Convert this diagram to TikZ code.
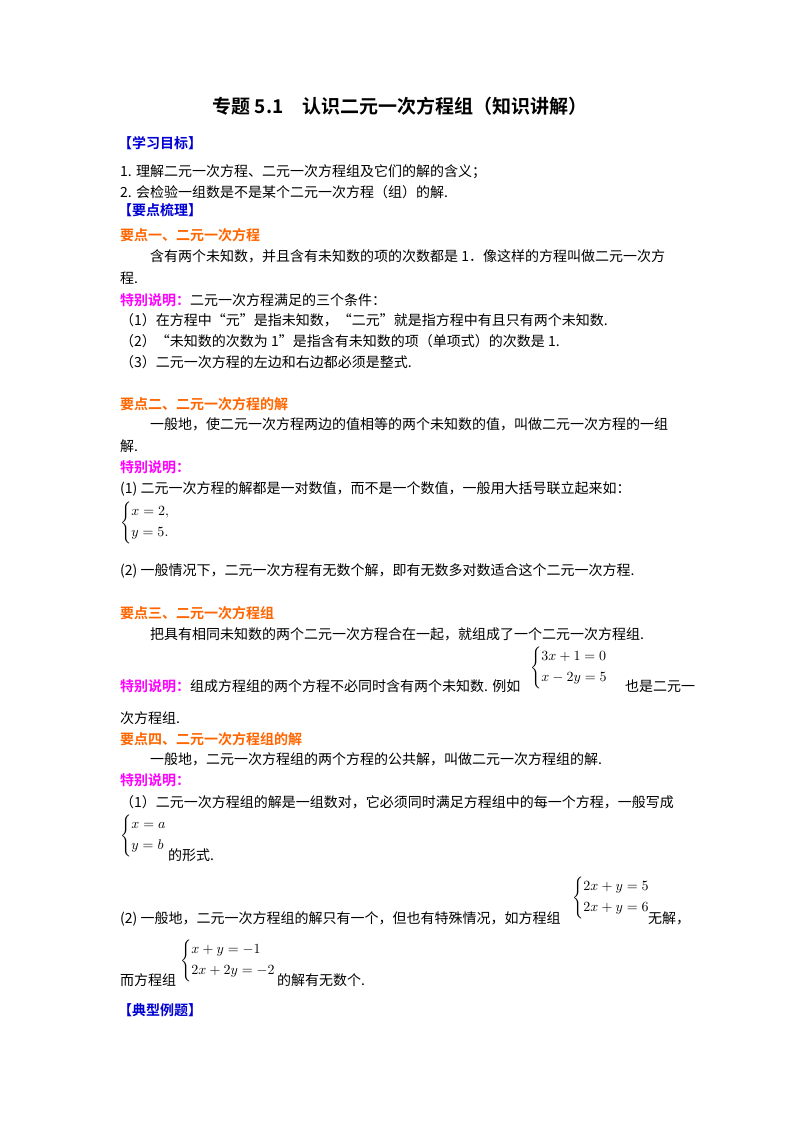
\documentclass[tikz,border=0pt]{standalone}
\usepackage{fontspec}
\newfontfamily\cjk[BoldFont={Noto Sans CJK SC Bold}]{Noto Sans CJK SC}
\definecolor{hblue}{RGB}{0,0,210}
\definecolor{horange}{RGB}{255,102,0}
\definecolor{hmag}{RGB}{255,0,255}
\newcommand\msys[2]{\scalebox{1.4}{$\left\{\begin{array}{@{}l}#1\\[3pt] #2\end{array}\right.$}}
\begin{document}
\begin{tikzpicture}[x=1pt,y=1pt,
  txt/.style={anchor=base west,inner sep=0pt,font=\cjk\fontsize{14}{14}\selectfont},
  hb/.style={txt,font=\cjk\bfseries\fontsize{14}{14}\selectfont,text=hblue},
  ho/.style={txt,font=\cjk\bfseries\fontsize{14}{14}\selectfont,text=horange},
  mth/.style={anchor=west,inner sep=0pt}]
\useasboundingbox[fill=white] (0,0) rectangle (800,-1132);
\newcommand\tb[1]{\textcolor{hmag}{\bfseries #1}}
\node[anchor=base,inner sep=0pt,font=\cjk\bfseries\fontsize{19}{20}\selectfont] (title) at (400,-113) {专题 5.1\quad 认识二元一次方程组（知识讲解）};
\node[hb] (h1) at (118,-148) {【学习目标】};
\node[txt] (l1) at (120,-176) {1. 理解二元一次方程、二元一次方程组及它们的解的含义；};
\node[txt] (l2) at (120,-197) {2. 会检验一组数是不是某个二元一次方程（组）的解.};
\node[hb] (h2) at (118,-215) {【要点梳理】};
\node[ho] (k1) at (120,-240) {要点一、二元一次方程};
\node[txt] (a1) at (150,-261) {含有两个未知数，并且含有未知数的项的次数都是 1．像这样的方程叫做二元一次方};
\node[txt] (a2) at (120,-283) {程.};
\node[txt] (a3) at (120,-305) {\tb{特别说明：}二元一次方程满足的三个条件：};
\node[txt] (a4) at (120,-325) {（1）在方程中“元”是指未知数，“二元”就是指方程中有且只有两个未知数.};
\node[txt] (a5) at (120,-346) {（2）“未知数的次数为 1”是指含有未知数的项（单项式）的次数是 1.};
\node[txt] (a6) at (120,-367) {（3）二元一次方程的左边和右边都必须是整式.};
\node[ho] (k2) at (120,-409) {要点二、二元一次方程的解};
\node[txt] (b1) at (150,-429) {一般地，使二元一次方程两边的值相等的两个未知数的值，叫做二元一次方程的一组};
\node[txt] (b2) at (120,-451) {解.};
\node[txt] (b3) at (120,-472) {\tb{特别说明：}};
\node[txt] (b4) at (120,-493) {(1) 二元一次方程的解都是一对数值，而不是一个数值，一般用大括号联立起来如：};
\node[mth] (b5) at (120,-523) {\msys{x=2,}{y=5.}};
\node[txt] (b6) at (120,-575) {(2) 一般情况下，二元一次方程有无数个解，即有无数多对数适合这个二元一次方程.};
\node[ho] (k3) at (120,-618) {要点三、二元一次方程组};
\node[txt] (c1) at (150,-639) {把具有相同未知数的两个二元一次方程合在一起，就组成了一个二元一次方程组.};
\node[mth] (c2) at (530,-668) {\msys{3x+1=0}{x-2y=5}};
\node[txt] (c3) at (120,-691) {\tb{特别说明：}组成方程组的两个方程不必同时含有两个未知数. 例如};
\node[txt] (c4) at (625,-691) {也是二元一};
\node[txt] (c5) at (120,-723) {次方程组.};
\node[ho] (k4) at (120,-744) {要点四、二元一次方程组的解};
\node[txt] (d1) at (150,-764) {一般地，二元一次方程组的两个方程的公共解，叫做二元一次方程组的解.};
\node[txt] (d2) at (120,-785) {\tb{特别说明：}};
\node[txt] (d3) at (120,-807) {（1）二元一次方程组的解是一组数对，它必须同时满足方程组中的每一个方程，一般写成};
\node[mth] (d4) at (120,-836) {\msys{x=a}{y=b}};
\node[txt] (d5) at (168,-860) {的形式.};
\node[mth] (d6) at (572,-898) {\msys{2x+y=5}{2x+y=6}};
\node[txt] (d7) at (120,-923) {(2) 一般地，二元一次方程组的解只有一个，但也有特殊情况，如方程组};
\node[txt] (d8) at (648,-923) {无解，};
\node[mth] (d9) at (180,-961) {\msys{x+y=-1}{2x+2y=-2}};
\node[txt] (d10) at (120,-985) {而方程组};
\node[txt] (d11) at (277,-985) {的解有无数个.};
\node[hb] (h3) at (118,-1015) {【典型例题】};
\end{tikzpicture}
\end{document}
